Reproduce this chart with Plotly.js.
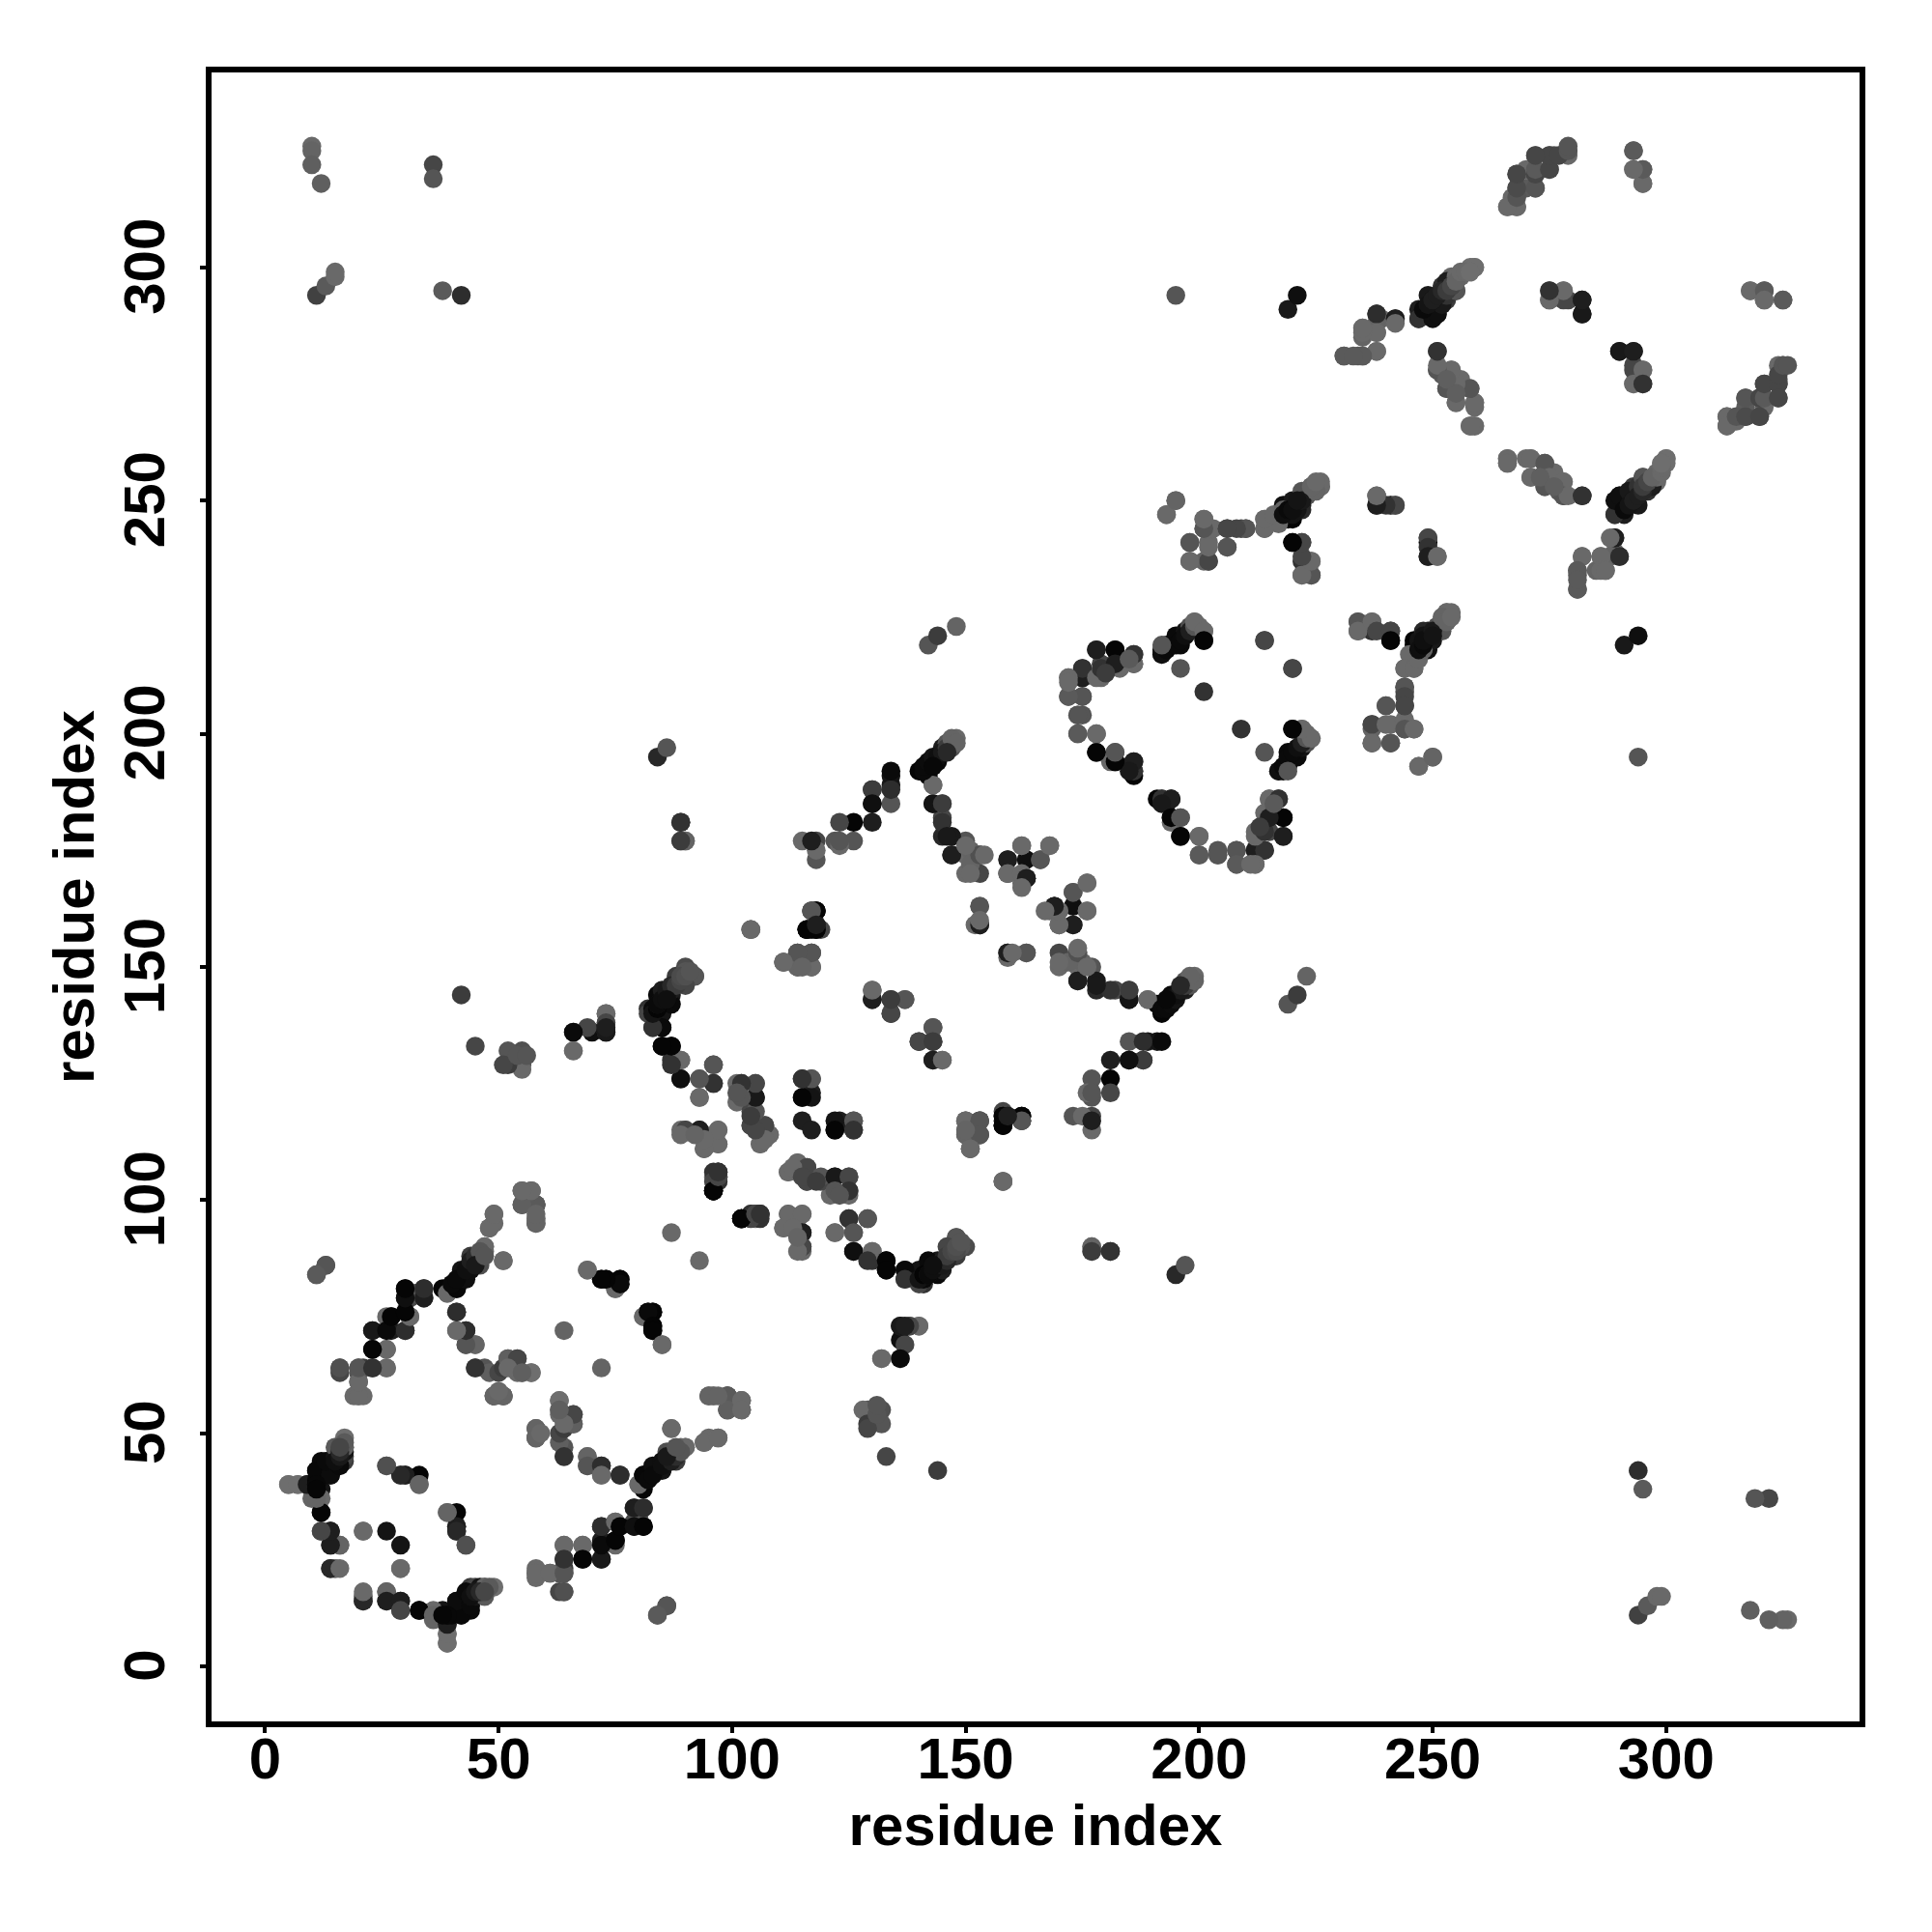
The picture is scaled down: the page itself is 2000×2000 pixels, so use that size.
<!DOCTYPE html>
<html><head><meta charset="utf-8">
<script src="https://cdn.plot.ly/plotly-3.0.1.min.js"></script>
<style>html,body{margin:0;padding:0;background:#fff}</style></head>
<body><div id="chart" style="width:2000px;height:2000px"></div>
<script>
const tickValues = [0, 50, 100, 150, 200, 250, 300];
const axisLabel = "residue index";
// each contact: [residue a, residue b, grey level]; the map is symmetric in a and b
const contactsN = [
[5,39,105],[7,39,105],[9,39,10],[10,38,30],[11,42,8],[11,39,8],[12,38,20],[12,36,105],[10,36,100],[14,41,10],[12,44,10],[15,43,20],[17,44,60],[17,45,70],[17,47,80],[15,47,105],[17,49,110],
[12,33,5],[12,29,80],[14,29,30],[14,26,40],[16,26,80],[14,21,40],[15,21,105],[21,29,105],[15,21,110],[14,21,40],[16,26,100],[14,26,30],[14,29,30],[12,29,70],[12,33,5],[11,36,100],
[26,43,85],[29,41,70],[30,41,30],[33,41,5],[33,39,100],[30,41,30],[29,41,40],[26,43,80],[39,33,100],[16,21,105],[5,39,110],[7,39,110],[9,39,30],[11,39,10],
[11,40,8],[11,42,8],[14,41,12],[13,44,10],[16,43,10],[15,45,20],[17,46,20],[15,47,90],[17,47,100],[39,11,8],[11,38,6],
[20,58,110],[21,64,60],[29,21,105],[26,29,20]
].map(c => c[0] < c[1] ? c : [c[1], c[0], c[2]]);
const contactsC = [
[11,84,90],[13,86,70],[23,68,5],[23,72,25],[27,72,30],[30,72,45],[26,68,105],[27,75,5],[26,75,105],[31,75,105],[30,81,8],[30,79,50],[31,79,70],[34,81,40],[34,79,70],[32,80,85],
[39,81,5],[39,80,105],[41,81,15],[42,83,10],[42,85,20],[43,84,30],[44,86,30],[44,88,60],[46,86,80],[47,89,105],[47,90,115],[51,87,105],[48,94,105],[49,95,105],[49,97,110],
[55,99,105],[55,102,110],[57,102,110],[58,99,75],[58,95,85],[58,96,105],
[41,76,45],[41,72,105],[43,72,45],[43,69,70],[45,69,105],[45,64,80],[47,64,85],[48,63,95],[50,63,70],[51,64,60],[52,66,80],[54,66,105],[54,63,105],[57,63,105],[49,58,105],[51,58,90],
[16,64,80],[16,63,70],[20,63,85],[20,64,90],[20,61,80],[19,58,105],[21,58,105],[23,64,50],[26,64,105],
[69,85,105],[72,83,5],[73,83,8],[76,83,5],[76,82,5],[75,81,105],[64,72,100],[81,75,105],[83,76,5],[82,76,10],[83,73,5],[83,72,5],[85,69,105],[87,93,105],
[57,63,110],[51,58,110],[49,58,100],[55,63,105],[52,66,95],[54,66,70],[52,64,105],[51,58,100],[49,58,100],[50,59,105],[45,64,50],[55,63,95],
[45,69,100],[43,69,85],[43,72,45],[41,72,105],[41,76,45],[51,87,105],[48,94,105],[49,97,105],[58,96,105],[58,99,75],[57,102,105],[55,99,85],[55,102,110],
[20,58,105],[20,61,105],[20,64,85],[26,64,105],[23,64,50],[16,64,80],[26,68,105],[23,68,5],[23,72,25],[26,72,10],[30,72,45],[31,75,105],[27,75,5],[30,76,5],[30,79,15],[34,79,30],[30,81,5],[34,81,45],[38,81,5],[39,80,105],[41,81,8],[43,83,15],[44,85,15],[45,87,25],[46,88,80],[47,90,105],
[13,86,85],[11,84,90]
];
const contactsM = [
[96,102,5],[97,106,60],[97,104,80],[96,105,105],[96,102,10],[97,105,50],[102,96,5],[104,97,50],[105,97,70],[106,97,50],
[66,136,85],[70,136,15],[66,132,105],[73,140,105],[73,138,70],[73,136,45],[82,141,50],[82,140,70],[83,141,10],[84,144,10],[85,145,30],[87,144,25],[88,148,60],[90,150,75],[92,148,80],[83,137,85],[85,137,10],[85,140,20],[85,133,5],[87,133,5],[87,130,50],[89,130,110],[89,126,25],[96,129,70],[96,125,50],[93,126,105],[93,122,105],
[89,115,105],[90,115,70],[93,115,30],[94,114,105],[97,115,105],[97,112,105],[94,111,105],[96,106,50],[96,104,70],[96,102,5],
[102,125,50],[101,125,105],[105,125,85],[101,121,105],[105,122,25],[104,119,70],[105,116,85],[107,116,85],[108,114,105],[106,112,105],[104,116,70],
[115,126,50],[117,126,85],[115,122,5],[117,123,30],[115,117,30],[122,117,20],[122,115,5],[126,117,85],[126,115,50],
[130,145,105],[130,143,20],[134,143,50],[137,143,70],[134,140,50],[143,137,85],[140,134,70],[143,134,60],[143,130,30],[145,130,105],
[104,158,105],[118,162,15],[117,158,30],[116,158,5],[119,158,70],[117,162,40],[111,151,105],[114,153,105],[117,153,85],[114,150,105],[117,150,105],[115,151,100],
[150,170,105],[153,170,70],[159,170,105],[163,169,25],[153,163,85],[153,159,30],[152,159,105],[159,153,30],[163,153,85],[160,153,105],
[153,174,80],[150,174,105],[150,177,85],[147,174,35],[147,178,25],[145,178,40],[145,182,70],[145,185,105],[143,185,5],[143,189,105],[142,191,5],
[163,173,15],[159,173,50],[162,176,105],[166,173,85],[168,176,105],[169,163,20],[168,162,105],[170,159,105],[173,159,30],[166,173,85],[168,176,105],[162,176,105],[159,170,105],[162,170,105],[163,169,30],[162,167,105],
[151,175,100],[151,172,100],[153,174,80],
[134,185,85],[134,189,25],[134,191,20],[130,181,30],[130,185,5],[130,188,30],[126,177,85],[126,181,5],[122,177,85],[123,181,70],[123,176,105],[123,177,85],
[118,173,85],[118,177,70],[115,177,105],[118,175,105],[117,177,30],[116,158,5],[118,158,5],[118,159,25],[117,162,85],[118,162,5],[117,150,105],[117,153,85],[114,150,100],[114,153,85],[111,151,105],[115,150,100],
[104,158,105],[89,177,105],[90,177,105],[89,181,30],[84,195,40],[86,197,85],[142,219,85],[144,221,60],[148,223,100],[130,188,60],[130,185,15],[134,188,45],[134,192,10],[140,192,5],[143,185,20],[143,189,105],[141,192,10],[144,194,10],[145,197,30],[148,199,105],[146,198,85],[147,198,100],[145,185,60],[145,181,50],[146,178,25],[147,174,30],[150,176,105],[154,174,105],[151,170,105],
[126,89,15],[130,89,105],[129,87,50],[133,87,5],[133,85,5],[137,85,10],[137,83,50],[140,83,20],[142,87,10],[143,86,5],[145,87,30],[147,89,50],[148,92,85],[149,90,85],[141,84,5],[142,84,30],[144,86,20],[146,90,70],
[125,96,50],[129,96,85],[122,93,105],[126,93,85],[102,96,5],[105,97,70],[106,97,50],[112,97,105],[115,97,105],[111,94,105],[115,93,30],[115,90,70],[114,89,105],[113,94,105],[114,92,100],
[112,106,105],[114,108,105],[116,107,70],[116,104,70],[119,105,85],[122,105,25],[125,105,70],[125,102,50],[122,102,85],[113,107,105],[115,105,70],[118,104,60],[123,101,85],
[158,118,5],[162,118,5],[158,116,5],[162,117,85],[159,118,30],[150,117,105],[153,117,85],[150,114,100],[153,114,85],[151,111,105],[150,115,100],[158,104,105],[177,90,100],[177,89,60],[181,89,50],
[95,58,100],[99,58,90],[99,55,95],[102,57,105],[102,55,105],[97,58,100],[129,55,85],[132,55,80],[128,55,105],[129,52,60],[132,52,85],[129,51,70],
[136,73,25],[140,73,105],[138,73,70],[137,69,70],[136,66,10],[132,66,105],[137,73,30],[144,42,60],[133,45,70],[131,54,85],[131,56,85]
];
const contactsE = [
[193,247,105],[195,250,100],[201,246,105],[201,244,85],[198,241,85],[202,241,105],[198,237,90],[202,237,70],[201,237,100],[203,244,105],[206,244,65],[206,240,100],[210,244,70],[209,244,70],[214,246,105],[214,244,105],[216,246,105],[217,247,90],[218,249,15],[219,246,5],[220,250,25],[222,251,50],[222,249,25],[224,253,100],[226,253,105],[220,241,5],[222,241,50],[222,237,50],[224,237,105],[222,234,105],[224,234,85],
[238,251,105],[238,249,30],[241,249,5],[242,249,70],[249,242,70],[249,240,50],[249,238,30],[251,238,105],
[234,224,85],[234,222,105],[237,224,105],[238,222,70],[241,222,70],[241,220,5],[246,220,5],[247,220,20],[249,221,25],[248,222,40],[251,223,50],[253,226,105],[254,226,105],[252,224,100],[245,217,105],[244,214,105],[246,214,105],[247,216,105],[248,218,100],
[244,210,85],[244,208,70],[244,206,70],[240,206,85],[237,202,70],[237,198,105],[240,202,105],[241,198,85],[244,201,85],[246,201,105],[247,193,105],[250,195,100],
[214,220,70],[220,214,70],[201,209,50],[196,214,85],
[192,217,85],[192,218,15],[193,219,5],[195,221,10],[197,222,20],[198,223,80],[199,224,105],[200,223,105],[201,222,105],[201,220,5],[196,219,10],
[178,218,45],[182,218,25],[175,214,50],[179,215,70],[186,217,50],[186,215,105],[183,215,105],[179,212,105],[172,212,105],[172,208,90],[175,212,50],[175,208,70],[174,204,85],[175,204,85],[174,200,90],[178,200,105],[178,196,5],[182,196,85],[182,194,5],[181,194,105],[186,194,30],[186,192,70],[186,191,5],[185,193,20],
[192,186,50],[194,186,30],[192,185,25],[194,182,5],[196,182,85],[196,178,5],[200,178,105],[200,174,90],[204,174,85],[208,175,85],[208,172,90],[212,175,30],[214,175,50],[212,172,105],[211,172,105],[212,178,105],[214,179,50],[218,178,30],[214,183,105],[218,182,5],[215,182,30],[215,186,105],[217,186,50],[213,180,60],[216,185,90],
[217,192,15],[218,193,10],[219,195,10],[220,196,10],[221,197,15],[222,198,30],[223,199,85],[224,199,105],[222,201,105],[220,201,5],[219,192,85]
];
const contactsK = [
[266,313,105],[268,313,105],[268,317,85],[268,320,85],[270,321,105],[272,317,85],[272,320,70],[272,324,85],[275,321,70],[275,324,70],[276,324,80],[279,325,105],[279,324,105],[270,317,90],[267,315,105],
[293,325,105],[293,321,110],[295,321,95],[295,318,105],
[231,281,90],[234,281,85],[235,281,85],[238,282,105],[235,287,105],[235,285,100],[238,290,50],[238,286,105],[239,289,105],[242,289,30],[238,288,100],
[247,289,70],[247,291,30],[248,290,25],[249,294,25],[252,296,50],[255,295,85],[253,293,60],[251,290,30],[254,298,105],[256,298,105],[258,300,110],[259,300,110],[250,292,20],[251,293,25],[252,294,40],[253,296,50],
[275,295,70],[275,293,105],[278,295,105],[279,293,70],[282,293,30],[282,290,30],[318,295,105],[321,295,90],[321,293,105],[325,293,90],
[251,282,50],[251,278,70],[254,278,105],[253,274,85],[255,274,105],[258,274,85],[255,271,100],[259,271,105],[258,266,100],[259,266,105],[252,277,90],[256,276,105],
[290,282,25],[293,282,30],[293,278,70],[295,278,105],[293,275,105],[295,275,50],
[313,268,105],[313,266,105],[315,268,85],[317,268,75],[320,268,70],[317,272,85],[320,272,70],[321,272,90],[321,275,70],[324,275,70],[324,272,70],[324,277,70],[325,279,85],[326,279,85],
[266,259,105],[266,258,105],[270,259,105],[271,259,105],[274,258,85],[271,255,105],[274,253,85],[275,255,105],[278,254,105],[278,251,85],[279,251,105],[282,251,50],[273,255,95],[276,253,95],
[289,247,50],[289,250,15],[290,251,15],[292,252,25],[294,253,50],[295,255,85],[297,253,30],[298,255,105],[299,257,110],[300,259,110],[291,248,10],[293,250,10],[296,254,70],[299,258,110],
[289,242,30],[288,242,105],[290,238,45],[286,238,105],[282,238,105],[281,235,90],[281,231,90],[286,235,105],[287,235,105],[281,233,90],
[219,291,25],[221,294,15],[195,294,85],[10,326,105],[10,325,100],[10,322,95],[12,318,95],[36,322,70],[36,319,85],[11,294,65],[13,296,90],[15,298,105],[15,299,105],[38,295,90],[42,294,45]
];
const contactsStrandFill = [
[15,44,15],[16,45,25],[16,46,40],[17,48,90],[16,47,70],
[40,82,10],[41,83,10],[43,85,15],[44,87,30],[45,88,45],[46,89,85],[45,86,25],[47,88,85],
[84,142,10],[85,143,15],[86,145,25],[87,146,40],[88,146,60],[89,147,70],[89,148,75],[90,148,80],[91,149,85],[86,143,15],
[141,193,10],[142,194,12],[143,195,20],[144,195,15],[145,196,25],[146,197,60],[147,197,85],[147,199,100],[148,198,100],[146,196,40],[143,193,8],
[218,247,15],[219,248,10],[220,248,15],[221,250,30],[223,251,85],[223,252,100],[225,253,105],[221,248,20],[222,252,85],
[248,220,15],[250,222,25],[252,225,100],[253,224,100],[254,225,105],[250,221,20],
[249,292,20],[250,293,30],[251,294,30],[252,295,40],[253,295,60],[254,296,70],[255,297,100],[256,299,105],[257,299,105],[258,299,110]
];
const allContacts = [...contactsN, ...contactsC, ...contactsM, ...contactsE, ...contactsK, ...contactsStrandFill];
const xs = [], ys = [], colours = [];
allContacts.forEach(([a, b, g]) => {
  xs.push(a, b); ys.push(b, a);
  colours.push(`rgb(${g},${g},${g})`, `rgb(${g},${g},${g})`);
});
const font = {family: '"Liberation Sans", Arial, sans-serif', color: '#000', size: 60, weight: 700};
const lineStyle = {
  showgrid: false, zeroline: false, showline: true, mirror: true, linecolor: '#000', linewidth: 6,
  ticks: 'outside', ticklen: 6, tickwidth: 4, tickcolor: '#000',
  tickmode: 'array', tickvals: tickValues, ticktext: tickValues.map(String), tickfont: font
};
Plotly.newPlot('chart', [{
  type: 'scatter', mode: 'markers', x: xs, y: ys, hoverinfo: 'skip',
  marker: {size: 19.5, color: colours, line: {width: 0}}
}], {
  width: 2000, height: 2000, autosize: false, showlegend: false,
  paper_bgcolor: '#fff', plot_bgcolor: '#fff',
  margin: {l: 218.5, r: 75, t: 74.5, b: 218, pad: 0},
  xaxis: {...lineStyle, ticklabelstandoff: -25, range: [-11.47, 341.4], title: {text: axisLabel, font, standoff: 17}},
  yaxis: {...lineStyle, ticklabelstandoff: 13, ticklabelshift: 8, range: [-11.8, 341.8], tickangle: -90, title: {text: axisLabel, font, standoff: 1}}
}, {staticPlot: true});
</script></body></html>
